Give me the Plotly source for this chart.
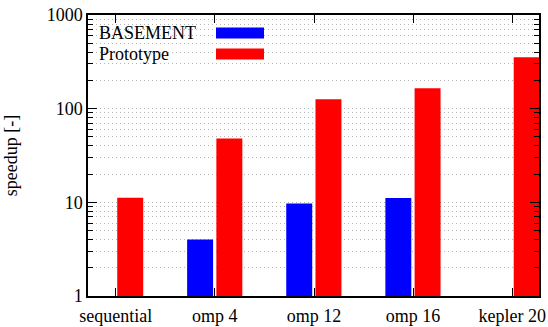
import plotly.graph_objects as go

categories = ["sequential", "omp 4", "omp 12", "omp 16", "kepler 20"]
basement = [None, 4.0, 9.7, 11.1, None]
prototype = [11.2, 48, 126, 165, 355]
series_names = ["BASEMENT", "Prototype"]
y_major = [1, 10, 100, 1000]
y_minor = [m * 10 ** k for k in range(3) for m in range(2, 10)]

FONT = "Liberation Serif"
FS = 18
BLUE = "#0000ff"
RED = "#ff0000"
GRID = "#b4b4b4"

W, H = 548, 327
L, R, T, B = 88, 9, 15, 31
pw, ph = W - L - R, H - T - B

fig = go.Figure()
fig.add_trace(go.Bar(x=categories, y=basement, name=series_names[0],
                     marker=dict(color=BLUE, line=dict(width=0)),
                     width=0.262, offset=-0.28, showlegend=False))
fig.add_trace(go.Bar(x=categories, y=prototype, name=series_names[1],
                     marker=dict(color=RED, line=dict(width=0)),
                     width=0.262, offset=0.015, showlegend=False))

# legend (gnuplot style: text left, swatch right)
def px_x(x):
    return (x - L) / pw

def px_y(y):
    return (H - B - y) / ph

shapes = [dict(type="rect", xref="paper", yref="paper", layer="between",
               x0=px_x(89), x1=px_x(272), y0=px_y(66), y1=px_y(16),
               fillcolor="white", line=dict(width=0))]
leg_rows = [(33, BLUE), (54, RED)]
annotations = []
for name, (yc, col) in zip(series_names, leg_rows):
    annotations.append(dict(text=name, xref="paper", yref="paper",
                            x=px_x(97), y=px_y(yc), xanchor="left", yanchor="middle",
                            showarrow=False, font=dict(family=FONT, size=FS, color="black")))
    shapes.append(dict(type="rect", xref="paper", yref="paper", layer="above",
                       x0=px_x(216), x1=px_x(264), y0=px_y(yc + 5.5), y1=px_y(yc - 5.5),
                       fillcolor=col, line=dict(width=0)))

fig.update_layout(
    width=W, height=H,
    margin=dict(l=L, r=R, t=T, b=B),
    paper_bgcolor="white", plot_bgcolor="white",
    barmode="overlay",
    font=dict(family=FONT, size=FS, color="black"),
    shapes=shapes, annotations=annotations,
    showlegend=False,
)
fig.update_xaxes(
    type="category", range=[-0.28, 4.27],
    showline=True, linecolor="black", linewidth=1.5, mirror="allticks",
    ticks="inside", ticklen=8, tickcolor="black", tickwidth=1,
    showgrid=False, tickfont=dict(family=FONT, size=FS),
    ticklabelstandoff=3, automargin=False,
)
fig.update_yaxes(
    type="log", range=[0, 3],
    tickvals=y_major, ticktext=[str(v) for v in y_major],
    showline=True, linecolor="black", linewidth=1.5, mirror="allticks",
    ticks="inside", ticklen=9, tickcolor="black", tickwidth=1,
    showgrid=True, gridcolor=GRID, griddash="1px,3px", gridwidth=1,
    minor=dict(tickvals=y_minor, ticks="inside", ticklen=5, tickcolor="black",
               showgrid=True, gridcolor=GRID, griddash="1px,3px", gridwidth=1),
    tickfont=dict(family=FONT, size=FS),
    title=dict(text="speedup [-]", font=dict(family=FONT, size=FS), standoff=24),
    zeroline=False, automargin=False,
)

fig.write_html("out.html")
